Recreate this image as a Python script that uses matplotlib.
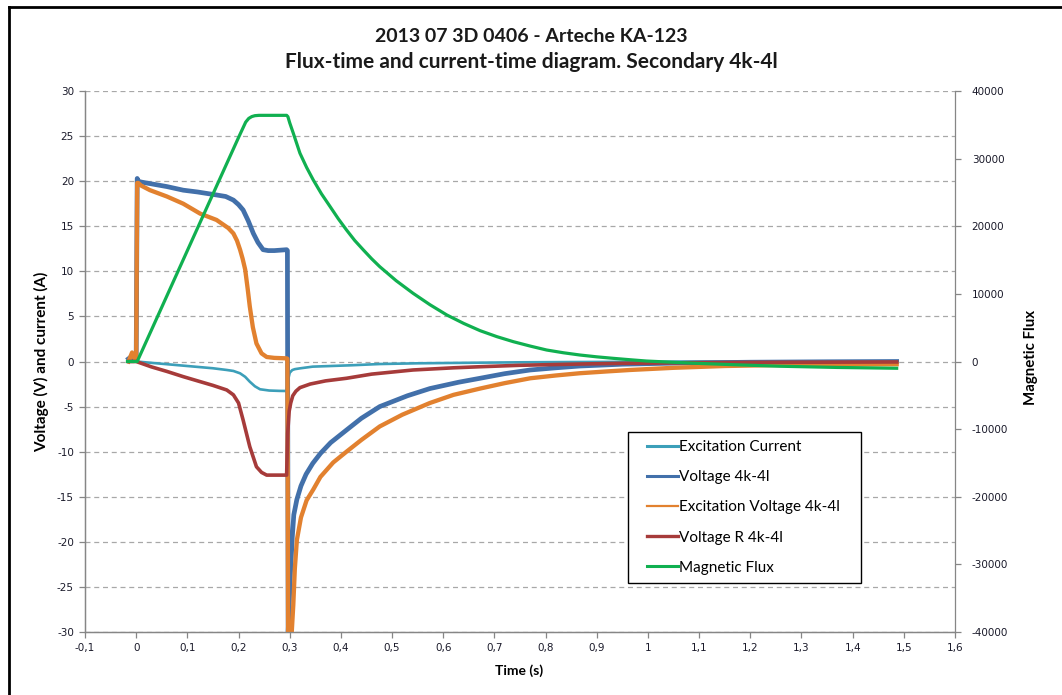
import matplotlib
matplotlib.use("Agg")
import matplotlib.pyplot as plt
from matplotlib.ticker import FuncFormatter
from matplotlib.lines import Line2D

plt.rcParams['axes.unicode_minus'] = False

# ---- series data ----
t_current = [-0.015, 0.0, 0.05, 0.10, 0.15, 0.177, 0.19, 0.203, 0.213, 0.222, 0.232, 0.242, 0.26, 0.28, 0.294,
             0.297, 0.300, 0.305, 0.31, 0.32, 0.345, 0.37, 0.42, 0.476, 0.55, 0.672, 0.75, 0.85, 0.95, 1.1, 1.3, 1.486]
excitation_current = [0.0, 0.0, -0.25, -0.5, -0.75, -0.94, -1.05, -1.31, -1.7, -2.24, -2.75, -3.08, -3.22, -3.26, -3.27,
                      -2.0, -1.25, -0.95, -0.85, -0.76, -0.57, -0.52, -0.42, -0.28, -0.2, -0.13, -0.09, -0.06, -0.04, -0.02, -0.01, 0.0]

t_v4k = [-0.015, -0.008, -0.004, 0.0, 0.002, 0.004, 0.01, 0.03, 0.06, 0.092, 0.12, 0.157, 0.175, 0.19, 0.2, 0.209,
         0.219, 0.229, 0.238, 0.248, 0.258, 0.27, 0.294, 0.2955, 0.297, 0.301, 0.305, 0.308, 0.314, 0.322, 0.332,
         0.345, 0.36, 0.38, 0.411, 0.44, 0.476, 0.53, 0.574, 0.63, 0.672, 0.72, 0.77, 0.82, 0.867, 0.95, 1.05, 1.2,
         1.35, 1.486]
voltage_4k4l = [0.3, 0.6, 0.2, 0.2, 20.3, 20.0, 19.9, 19.7, 19.4, 19.0, 18.8, 18.47, 18.3, 17.9, 17.4, 16.8,
                15.6, 14.2, 13.2, 12.4, 12.3, 12.3, 12.4, 12.3, -30.0, -24.0, -19.5, -17.0, -15.3, -13.8, -12.5,
                -11.3, -10.2, -9.0, -7.6, -6.3, -5.0, -3.8, -3.0, -2.3, -1.86, -1.35, -0.94, -0.7, -0.5, -0.3, -0.18,
                -0.08, -0.03, 0.0]

t_vexc = [-0.015, -0.008, -0.005, -0.002, 0.0, 0.002, 0.004, 0.01, 0.027, 0.06, 0.092, 0.125, 0.157, 0.18, 0.19,
          0.197, 0.203, 0.208, 0.213, 0.218, 0.222, 0.228, 0.235, 0.245, 0.255, 0.27, 0.294, 0.2955, 0.297, 0.303,
          0.307, 0.310, 0.314, 0.322, 0.333, 0.346, 0.36, 0.385, 0.411, 0.44, 0.476, 0.52, 0.574, 0.62, 0.672,
          0.72, 0.77, 0.82, 0.867, 0.92, 0.965, 1.05, 1.15, 1.3, 1.486]
excitation_voltage = [0.0, 1.0, 0.5, 0.3, 0.3, 19.8, 19.8, 19.5, 19.0, 18.3, 17.5, 16.4, 15.7, 14.8, 14.2,
                      13.4, 12.4, 11.4, 10.2, 8.0, 6.1, 3.8, 2.0, 0.9, 0.5, 0.4, 0.35, 0.3, -33.0, -31.0,
                      -27.0, -23.0, -19.8, -17.3, -15.4, -14.2, -12.8, -11.2, -10.0, -8.7, -7.2, -5.9, -4.6, -3.7, -3.0,
                      -2.4, -1.86, -1.55, -1.3, -1.1, -0.94, -0.7, -0.5, -0.35, -0.3]

t_vr = [-0.015, 0.0, 0.03, 0.06, 0.092, 0.12, 0.15, 0.177, 0.19, 0.2, 0.209, 0.222, 0.235, 0.245, 0.255, 0.275,
        0.294, 0.296, 0.299, 0.302, 0.306, 0.312, 0.32, 0.34, 0.37, 0.411, 0.46, 0.541, 0.62, 0.672, 0.75, 0.867,
        0.95, 1.05, 1.2, 1.486]
voltage_r = [0.0, 0.0, -0.6, -1.1, -1.68, -2.15, -2.65, -3.16, -3.7, -4.6, -6.5, -9.45, -11.67, -12.3, -12.6, -12.6,
             -12.6, -8.0, -5.5, -4.6, -3.8, -3.3, -2.9, -2.5, -2.15, -1.86, -1.4, -0.94, -0.7, -0.58, -0.42, -0.28,
             -0.2, -0.15, -0.1, -0.05]

t_flux = [-0.017, 0.0, 0.002, 0.05, 0.10, 0.15, 0.20, 0.214, 0.22, 0.226, 0.232, 0.24, 0.25, 0.294, 0.2965,
          0.30, 0.307, 0.32, 0.333, 0.346, 0.362, 0.379, 0.395, 0.411, 0.427, 0.444, 0.46, 0.476, 0.508, 0.541,
          0.574, 0.607, 0.64, 0.672, 0.705, 0.737, 0.77, 0.802, 0.835, 0.867, 0.9, 0.932, 0.965, 0.997, 1.05,
          1.095, 1.17, 1.258, 1.37, 1.486]
magnetic_flux = [0, 0, 0, 8030, 16400, 24760, 33120, 35400, 35950, 36220, 36350, 36400, 36400, 36400, 36200,
                 35300, 33760, 30800, 28700, 26850, 24800, 22900, 21100, 19450, 17900, 16490, 15200, 14020, 11950,
                 10090, 8400, 6880, 5630, 4560, 3670, 2930, 2280, 1700, 1290, 960, 690, 470, 260, 70, -120,
                 -270, -480, -700, -880, -1000]

x_ticks = [i / 10 for i in range(-1, 17)]
left_ticks = list(range(-30, 31, 5))
right_ticks = list(range(-40000, 40001, 10000))

# ---- styling ----
c_current = '#3C9FB9'
c_v4k = '#4270AA'
c_vexc = '#E2812F'
c_vr = '#A63B3A'
c_flux = '#10B050'
spine_c = '#868686'
txt_c = '#1A1A2A'
label_font = ['Lato', 'DejaVu Sans']

fig = plt.figure(figsize=(10.62, 6.95), dpi=100)
W, H = 1062, 695
ax = fig.add_axes([85 / W, (H - 632) / H, 870 / W, 541 / H])
ax2 = ax.twinx()

ax.plot(t_current, excitation_current, color=c_current, lw=1.9, label='Excitation Current', zorder=3)
ax.plot(t_v4k, voltage_4k4l, color=c_v4k, lw=3.4, label='Voltage 4k-4l', zorder=4)
ax.plot(t_vexc, excitation_voltage, color=c_vexc, lw=3.1, label='Excitation Voltage 4k-4l', zorder=5)
ax.plot(t_vr, voltage_r, color=c_vr, lw=2.6, label='Voltage R 4k-4l', zorder=6)
ax2.plot(t_flux, magnetic_flux, color=c_flux, lw=2.3, label='Magnetic Flux', zorder=3)

ax.set_xlim(-0.1, 1.6)
ax.set_ylim(-30, 30)
ax2.set_ylim(-40000, 40000)
ax.set_xticks(x_ticks)
ax.set_yticks(left_ticks)
ax2.set_yticks(right_ticks)
ax.xaxis.set_major_formatter(FuncFormatter(lambda v, p: ('%g' % round(v, 2)).replace('.', ',')))
ax.yaxis.set_major_formatter(FuncFormatter(lambda v, p: '%d' % round(v)))
ax2.yaxis.set_major_formatter(FuncFormatter(lambda v, p: '%d' % round(v)))

ax.set_axisbelow(True)
ax.yaxis.grid(True, linestyle=(0, (4, 3)), color='#A8A8A8', lw=0.9)

for a in (ax, ax2):
    for s in a.spines.values():
        s.set_color(spine_c)
        s.set_linewidth(0.9)
    a.spines['top'].set_visible(False)
ax.spines['right'].set_visible(False)
ax.tick_params(axis='both', direction='out', length=4, width=0.9, color=spine_c,
               labelsize=7.5, labelcolor=txt_c, pad=4)
ax2.tick_params(axis='y', direction='out', length=4, width=0.9, color=spine_c,
                labelsize=7.5, labelcolor=txt_c, pad=8)

ax.set_xlabel('Time (s)', fontsize=10, fontweight='bold', family=label_font, color='black')
ax.xaxis.set_label_coords((519 - 85) / 870, (632 - 664) / 541)
ax.set_ylabel('Voltage (V) and current (A)', fontsize=11, fontweight='bold', family=label_font, color='black')
ax.yaxis.set_label_coords((49 - 85) / 870, 0.5)
ax2.set_ylabel('Magnetic Flux', fontsize=10.8, fontweight='bold', family=label_font, color='black')
ax2.yaxis.set_label_coords((1024 - 85) / 870, (632 - 357) / 541)

fig.text(531 / W, 1 - 36 / H, '2013 07 3D 0406 - Arteche KA-123', ha='center', va='center',
         fontsize=14, fontweight='bold', family=label_font, color='#1a1a1a')
fig.text(531 / W, 1 - 62 / H, 'Flux-time and current-time diagram. Secondary 4k-4l', ha='center', va='center',
         fontsize=15, fontweight='bold', family=label_font, color='#1a1a1a')

# legend combining both axes, stretched to a fixed box width
h1, l1 = ax.get_legend_handles_labels()
h2, l2 = ax2.get_legend_handles_labels()
leg = ax2.legend(h1 + h2, l1 + l2, loc='upper left',
                 bbox_to_anchor=((628 - 85) / 870, (632 - 580) / 541, 233 / 870, 148 / 541), mode='expand',
                 frameon=True, fancybox=False, framealpha=1, edgecolor='black',
                 prop={'family': label_font, 'size': 11}, handlelength=2.7, handletextpad=0.12,
                 labelspacing=1.05, borderpad=0.55, borderaxespad=0)
leg.get_frame().set_linewidth(1.0)
for ln, w in zip(leg.get_lines(), [2.2, 2.2, 1.6, 2.4, 2.2]):
    ln.set_linewidth(w)
    xd = list(ln.get_xdata())
    yd = list(ln.get_ydata())
    ln.set_data([xd[0] + 0.25 * (xd[-1] - xd[0]), xd[-1]], [yd[0], yd[-1]])

# chart area border
fig.add_artist(Line2D([8.5 / W, 8.5 / W], [0, 1 - 6.5 / H], transform=fig.transFigure, color='black', lw=2.0))
fig.add_artist(Line2D([8.5 / W, 1], [1 - 6.5 / H, 1 - 6.5 / H], transform=fig.transFigure, color='black', lw=2.0))

fig.savefig('out.png', dpi=100)
